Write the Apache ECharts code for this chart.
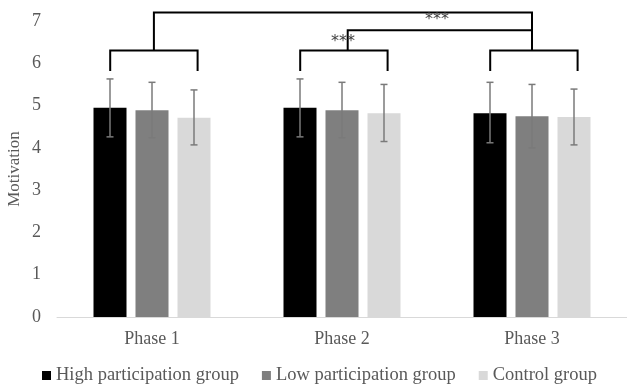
<!DOCTYPE html>
<html><head><meta charset="utf-8">
<script src="https://cdn.jsdelivr.net/npm/echarts@6/dist/echarts.min.js"></script>
<style>html,body{margin:0;padding:0;background:#fff}#c{width:627px;height:384px}</style>
</head><body><div id="c"></div>
<script>
var categories = ['Phase 1', 'Phase 2', 'Phase 3'];
var groups = ['High participation group', 'Low participation group', 'Control group'];
var highMean = [4.95, 4.95, 4.82];
var lowMean = [4.89, 4.89, 4.75];
var controlMean = [4.71, 4.82, 4.73];
var highErrLow = [4.26, 4.26, 4.12];
var highErrHigh = [5.63, 5.63, 5.55];
var lowErrLow = [4.24, 4.24, 4.00];
var lowErrHigh = [5.55, 5.55, 5.50];
var controlErrLow = [4.07, 4.15, 4.07];
var controlErrHigh = [5.37, 5.50, 5.39];
var yTicks = [0, 1, 2, 3, 4, 5, 6, 7];
// bracket polylines: [category position, y value] points
var brackets = [
  [[-0.22, 5.82], [-0.22, 6.30], [0.24, 6.30], [0.24, 5.82]],
  [[0.78, 5.82], [0.78, 6.30], [1.24, 6.30], [1.24, 5.82]],
  [[1.78, 5.82], [1.78, 6.30], [2.24, 6.30], [2.24, 5.82]],
  [[0.01, 6.30], [0.01, 7.20], [2.0, 7.20], [2.0, 6.30]],
  [[1.03, 6.30], [1.03, 6.78], [2.0, 6.78]]
];
var sigLabels = [['***', 1.5, 7.02], ['***', 1.005, 6.50]];

var colors = ['#000000', '#7f7f7f', '#d9d9d9'];
var means = [highMean, lowMean, controlMean];
var errs = [[highErrLow, highErrHigh], [lowErrLow, lowErrHigh], [controlErrLow, controlErrHigh]];
var BAR_W = 33, BAR_GAP = 9;
var font = '"Liberation Serif", "Times New Roman", serif';
var txt = '#595959';

function catX(api, pos) {
  var i = Math.round(pos);
  var base = api.coord([i, 0])[0];
  var w = api.size([1, 0])[0];
  return base + (pos - i) * w;
}

var series = [];
groups.forEach(function (g, gi) {
  series.push({
    name: g, type: 'bar', data: means[gi], barWidth: BAR_W, barGap: (BAR_GAP / BAR_W * 100) + '%',
    itemStyle: { color: colors[gi] }, silent: true
  });
});
groups.forEach(function (g, gi) {
  var d = categories.map(function (c, ci) { return [ci, errs[gi][0][ci], errs[gi][1][ci]]; });
  series.push({
    type: 'custom', silent: true, z: 5,
    data: d,
    renderItem: function (params, api) {
      var ci = api.value(0);
      var off = (gi - 1) * (BAR_W + BAR_GAP);
      var lo = api.coord([ci, api.value(1)]);
      var hi = api.coord([ci, api.value(2)]);
      var x = lo[0] + off;
      var st = { stroke: '#7a7a7a', lineWidth: 1.5 };
      return { type: 'group', children: [
        { type: 'line', shape: { x1: x, y1: lo[1], x2: x, y2: hi[1] }, style: st },
        { type: 'line', shape: { x1: x - 3.5, y1: lo[1], x2: x + 3.5, y2: lo[1] }, style: st },
        { type: 'line', shape: { x1: x - 3.5, y1: hi[1], x2: x + 3.5, y2: hi[1] }, style: st }
      ]};
    }
  });
});
series.push({
  type: 'custom', silent: true, z: 6, clip: false,
  data: brackets.map(function (b, i) { return [i]; }),
  renderItem: function (params, api) {
    var b = brackets[params.dataIndex];
    var pts = b.map(function (p) { return [catX(api, p[0]), api.coord([0, p[1]])[1]]; });
    return { type: 'polyline', shape: { points: pts }, style: { stroke: '#000', lineWidth: 2, fill: null } };
  }
});
series.push({
  type: 'custom', silent: true, z: 7, clip: false,
  data: sigLabels.map(function (s, i) { return [i]; }),
  renderItem: function (params, api) {
    var s = sigLabels[params.dataIndex];
    return { type: 'text', x: catX(api, s[1]), y: api.coord([0, s[2]])[1],
      style: { text: s[0], fill: '#404040', font: '16px "DejaVu Sans", sans-serif', align: 'center', verticalAlign: 'middle' } };
  }
});

var chart = echarts.init(document.getElementById('c'));
chart.setOption({
  animation: false,
  grid: { left: 57, right: 0, top: 21, bottom: 67, containLabel: false, outerBoundsMode: 'none' },
  legend: {
    data: groups, left: 37, top: 361, itemWidth: 9, itemHeight: 9, itemGap: 23,
    icon: 'rect', textStyle: { color: txt, fontFamily: font, fontSize: 18.5 }
  },
  xAxis: {
    type: 'category', data: categories,
    axisLine: { lineStyle: { color: '#d9d9d9', width: 1 } },
    axisTick: { show: false },
    axisLabel: { color: txt, fontFamily: font, fontSize: 18, margin: 13 }
  },
  yAxis: {
    type: 'value', min: yTicks[0], max: yTicks[yTicks.length - 1], interval: 1,
    name: 'Motivation', nameLocation: 'middle', nameGap: 34, nameMoveOverlap: false,
    nameTextStyle: { color: txt, fontFamily: font, fontSize: 17 },
    splitLine: { show: false }, axisLine: { show: false }, axisTick: { show: false },
    axisLabel: { color: txt, fontFamily: font, fontSize: 18, margin: 16 }
  },
  series: series
});
</script></body></html>
